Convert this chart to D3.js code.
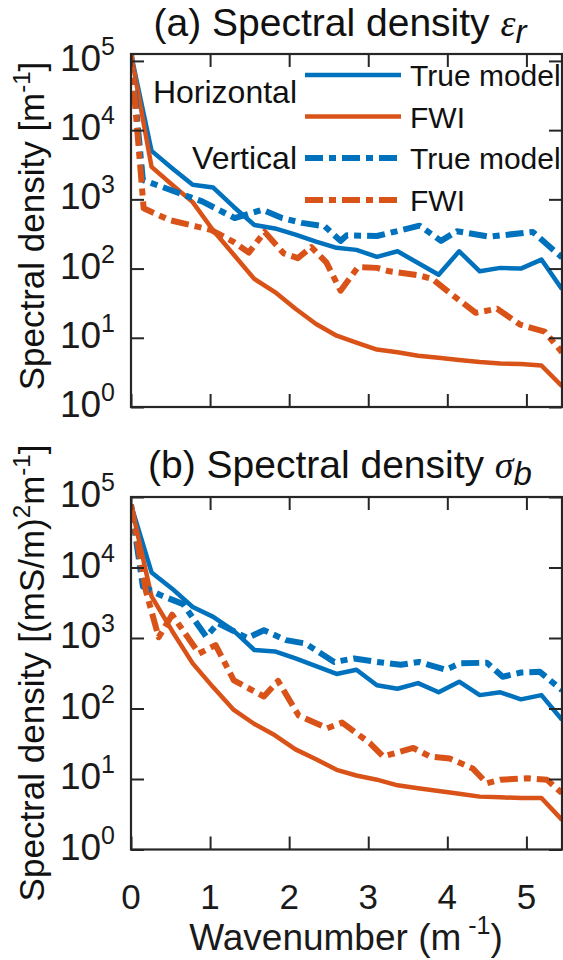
<!DOCTYPE html>
<html><head><meta charset="utf-8">
<script src="https://cdn.jsdelivr.net/npm/d3@7"></script>
<style>
html,body{margin:0;padding:0;background:#fff;}
svg{display:block;font-family:"Liberation Sans",Arial,Helvetica,sans-serif;}
</style></head><body>
<svg id="chart" width="563" height="960"></svg>
<script>
// ---------- DATA (values are log10 of spectral density) ----------
const xTicks = [0, 1, 2, 3, 4, 5];
const yTickExps = [0, 1, 2, 3, 4, 5];

// horizontal spectra share one wavenumber grid (m^-1)
const kH = [0, 0.26, 0.52, 0.78, 1.04, 1.30, 1.56, 1.82, 2.08, 2.34, 2.60, 2.85, 3.11, 3.37, 3.63, 3.89, 4.15, 4.41, 4.67, 4.93, 5.19, 5.45];

// (a) permittivity
const hTrueA = [5.1, 3.70, 3.45, 3.21, 3.17, 2.89, 2.63, 2.58, 2.49, 2.39, 2.30, 2.27, 2.17, 2.25, 2.08, 1.91, 2.25, 1.96, 2.01, 2.00, 2.13, 1.70];
const hFwiA  = [5.1, 3.47, 3.21, 2.96, 2.55, 2.20, 1.85, 1.66, 1.42, 1.20, 1.03, 0.93, 0.83, 0.79, 0.74, 0.71, 0.68, 0.65, 0.63, 0.62, 0.60, 0.30];
const kVTrueA = [0, 0.15, 0.56, 0.90, 1.31, 1.66, 1.91, 2.16, 2.45, 2.65, 2.73, 3.11, 3.65, 3.92, 4.12, 4.53, 5.08, 5.45];
const vTrueA  = [5.1, 3.28, 3.11, 2.97, 2.73, 2.85, 2.73, 2.66, 2.61, 2.40, 2.48, 2.47, 2.62, 2.40, 2.54, 2.46, 2.53, 2.16];
const kVFwiA = [0, 0.16, 0.49, 0.82, 1.01, 1.29, 1.49, 1.69, 1.93, 2.11, 2.28, 2.47, 2.65, 2.87, 3.11, 3.27, 3.65, 3.81, 4.03, 4.36, 4.63, 4.92, 5.23, 5.45];
const vFwiA  = [5.1, 2.87, 2.70, 2.61, 2.56, 2.39, 2.23, 2.53, 2.22, 2.15, 2.31, 2.09, 1.68, 2.02, 2.01, 1.96, 1.90, 1.85, 1.65, 1.36, 1.42, 1.19, 1.09, 0.79];

// (b) conductivity
const hTrueB = [4.89, 3.93, 3.70, 3.44, 3.30, 3.10, 2.83, 2.81, 2.71, 2.60, 2.49, 2.55, 2.33, 2.28, 2.36, 2.23, 2.38, 2.19, 2.23, 2.13, 2.19, 1.84];
const hFwiB  = [4.89, 3.59, 3.10, 2.64, 2.30, 1.98, 1.78, 1.62, 1.42, 1.28, 1.13, 1.05, 0.99, 0.91, 0.87, 0.83, 0.79, 0.75, 0.74, 0.73, 0.73, 0.42];
const kVTrueB = [0, 0.15, 0.37, 0.66, 0.95, 1.10, 1.47, 1.68, 1.96, 2.21, 2.57, 2.82, 3.11, 3.41, 3.64, 3.98, 4.16, 4.50, 4.70, 4.93, 5.17, 5.45];
const vTrueB  = [4.89, 3.73, 3.61, 3.48, 3.02, 3.21, 3.00, 3.11, 2.97, 2.92, 2.66, 2.71, 2.66, 2.62, 2.66, 2.55, 2.64, 2.65, 2.45, 2.51, 2.52, 2.26];
const kVFwiB = [0, 0.19, 0.35, 0.52, 0.86, 1.07, 1.30, 1.68, 1.86, 2.12, 2.48, 2.67, 3.02, 3.19, 3.57, 3.78, 4.03, 4.32, 4.50, 4.67, 5.01, 5.26, 5.45];
const vFwiB  = [4.89, 3.66, 3.01, 3.33, 2.78, 2.90, 2.40, 2.17, 2.39, 1.90, 1.72, 1.80, 1.51, 1.32, 1.44, 1.32, 1.29, 1.15, 0.94, 0.99, 1.01, 0.99, 0.80];

const legendGroups = ["Horizontal", "Vertical"];
const legendLabels = ["True model", "FWI", "True model", "FWI"];

// ---------- STYLE / LAYOUT ----------
const BLUE = "#0072BD", ORANGE = "#D95319", AX = "#262626";
const DASH = "18,6,7,6";
const X0 = 131, X1 = 562;
const svg = d3.select("#chart");
const x = d3.scaleLinear().domain([0, 5.45]).range([X0, X1]);

const toPts = (k, v) => k.map((kk, i) => ({k: kk, d: Math.pow(10, v[i])}));

const panels = [
  { id: "a", top: 54, bottom: 407, yMax: Math.pow(10, 5.1), titleY: 36, sym: "\u03B5", sub: "r",
    label: [["Spectral density [m", 0], ["-1", 1], ["]", 0]], labelCY: 226,
    series: [
      {pts: toPts(kH, hTrueA), c: BLUE, dash: null},
      {pts: toPts(kH, hFwiA), c: ORANGE, dash: null},
      {pts: toPts(kVTrueA, vTrueA), c: BLUE, dash: DASH},
      {pts: toPts(kVFwiA, vFwiA), c: ORANGE, dash: DASH}
    ]},
  { id: "b", top: 497, bottom: 849.5, yMax: 1e5, titleY: 478, sym: "\u03C3", sub: "b",
    label: [["Spectral density [(mS/m)", 0], ["2", 1], ["m", 0], ["-1", 1], ["]", 0]], labelCY: 673,
    series: [
      {pts: toPts(kH, hTrueB), c: BLUE, dash: null},
      {pts: toPts(kH, hFwiB), c: ORANGE, dash: null},
      {pts: toPts(kVTrueB, vTrueB), c: BLUE, dash: DASH},
      {pts: toPts(kVFwiB, vFwiB), c: ORANGE, dash: DASH}
    ]}
];

panels.forEach(p => {
  const y = d3.scaleLog().domain([1, p.yMax]).range([p.bottom, p.top]);
  const g = svg.append("g");

  g.append("clipPath").attr("id", "clip" + p.id)
    .append("rect").attr("x", X0).attr("y", p.top).attr("width", X1 - X0).attr("height", p.bottom - p.top);

  // lines
  const line = d3.line().x(d => x(d.k)).y(d => y(d.d));
  const lg = g.append("g").attr("clip-path", `url(#clip${p.id})`);
  p.series.forEach(s => {
    lg.append("path").attr("d", line(s.pts)).attr("fill", "none")
      .attr("stroke", s.c).attr("stroke-width", s.dash ? 6 : 4.5)
      .attr("stroke-dasharray", s.dash).attr("stroke-linejoin", "round");
  });

  // axes (inward ticks on all four sides)
  const tv = yTickExps.map(e => Math.pow(10, e));
  const styleAx = sel => { sel.select(".domain").remove(); sel.selectAll("line").attr("stroke", AX).attr("stroke-width", 2); sel.selectAll("text").remove(); };
  g.append("g").attr("transform", `translate(${X0},0)`).call(d3.axisLeft(y).tickValues(tv).tickSize(-13)).call(styleAx);
  g.append("g").attr("transform", `translate(${X1},0)`).call(d3.axisRight(y).tickValues(tv).tickSize(-13)).call(styleAx);
  g.append("g").attr("transform", `translate(0,${p.bottom})`).call(d3.axisBottom(x).tickValues(xTicks).tickSize(-13)).call(styleAx);
  g.append("g").attr("transform", `translate(0,${p.top})`).call(d3.axisTop(x).tickValues(xTicks).tickSize(-13)).call(styleAx);
  g.append("rect").attr("x", X0).attr("y", p.top).attr("width", X1 - X0).attr("height", p.bottom - p.top)
    .attr("fill", "none").attr("stroke", AX).attr("stroke-width", 2.2);

  // y tick labels 10^n
  yTickExps.forEach(e => {
    const t = g.append("text").attr("x", 115).attr("y", y(Math.pow(10, e)) + 10)
      .attr("text-anchor", "end").attr("font-size", 37).attr("fill", "#1a1a1a");
    t.append("tspan").text("10");
    t.append("tspan").attr("dy", -16).attr("font-size", 25).text(e);
  });

  // title
  const tt = g.append("text").attr("x", 340).attr("y", p.titleY).attr("text-anchor", "middle")
    .attr("font-size", 39).attr("fill", "#111");
  tt.append("tspan").text(`(${p.id}) Spectral density `);
  tt.append("tspan").attr("font-family", "'Liberation Serif','Times New Roman',serif").attr("font-style", "italic").attr("font-size", 38).text(p.sym);
  tt.append("tspan").attr("font-style", "italic").attr("font-size", 33).attr("dy", 7).text(p.sub);

  // y label
  const yl = g.append("text").attr("transform", `translate(44,${p.labelCY}) rotate(-90)`)
    .attr("text-anchor", "middle").attr("font-size", 35).attr("fill", "#111");
  let up = false;
  p.label.forEach(([s, isSup]) => {
    const ts = yl.append("tspan").text(s);
    if (isSup && !up) { ts.attr("dy", -14).attr("font-size", 24); up = true; }
    else if (!isSup && up) { ts.attr("dy", 14); up = false; }
    else if (isSup) { ts.attr("font-size", 24); }
  });

  if (p.id === "b") {
    xTicks.forEach(v => {
      g.append("text").attr("x", x(v)).attr("y", 909).attr("text-anchor", "middle")
        .attr("font-size", 35).attr("fill", "#1a1a1a").text(v);
    });
    const xl = g.append("text").attr("x", 346).attr("y", 950).attr("text-anchor", "middle")
      .attr("font-size", 37).attr("fill", "#1a1a1a");
    xl.append("tspan").text("Wavenumber (m");
    xl.append("tspan").attr("dy", -16).attr("font-size", 25).text(" -1");
    xl.append("tspan").attr("dy", 16).text(")");
  }

  if (p.id === "a") {
    const lgd = g.append("g");
    const rowsY = [75, 116.5, 158, 200];
    const styles = p.series;
    rowsY.forEach((ry, i) => {
      lgd.append("line").attr("x1", 305).attr("x2", 401).attr("y1", ry).attr("y2", ry)
        .attr("stroke", styles[i].c).attr("stroke-width", styles[i].dash ? 6 : 4.5)
        .attr("stroke-dasharray", styles[i].dash);
      lgd.append("text").attr("x", 410).attr("y", ry + 11).attr("font-size", 30).attr("fill", "#111").text(legendLabels[i]);
    });
    lgd.append("text").attr("x", 297).attr("y", 103).attr("text-anchor", "end").attr("font-size", 32).attr("fill", "#111").text(legendGroups[0]);
    lgd.append("text").attr("x", 297).attr("y", 169).attr("text-anchor", "end").attr("font-size", 32).attr("fill", "#111").text(legendGroups[1]);
  }
});
</script>
</body></html>
